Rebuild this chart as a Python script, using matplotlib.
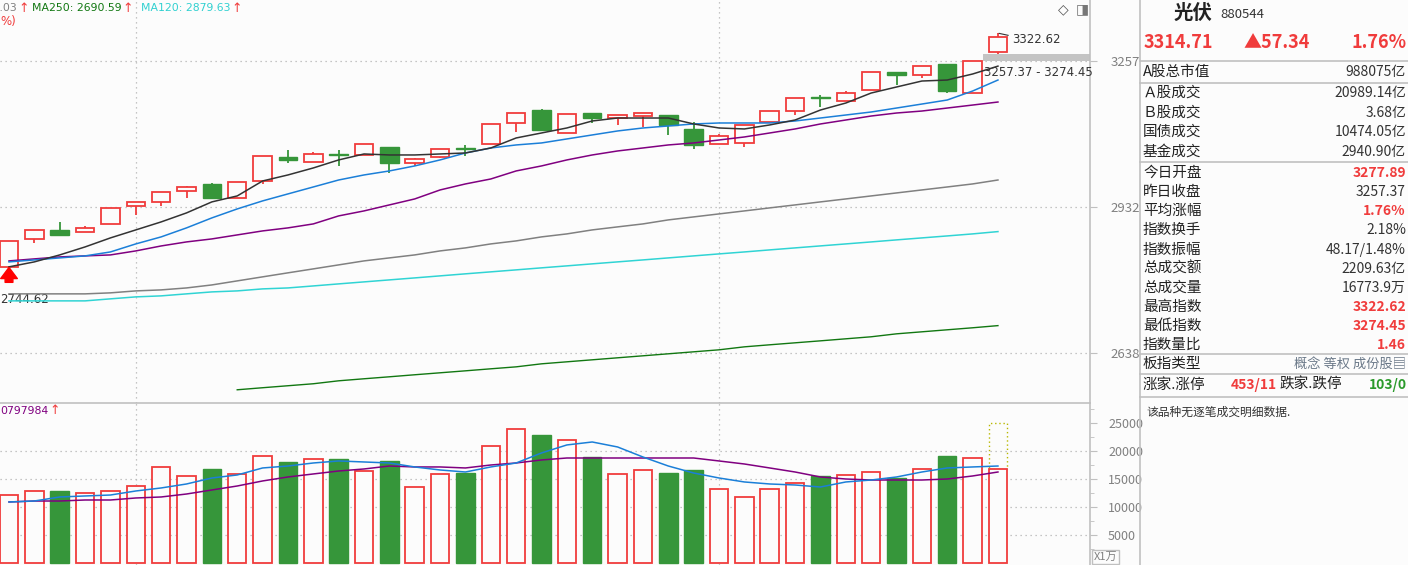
import numpy as np
import matplotlib.pyplot as plt
from matplotlib.lines import Line2D
from matplotlib.ticker import FixedLocator, NullLocator, NullFormatter

plt.rcParams['font.family'] = ['Noto Sans CJK SC', 'DejaVu Sans']

# daily k-line data (40 sessions, last one is today)
opens = [2807.2, 2864.4, 2883.1, 2878.9, 2895.6, 2933.5, 2942.0, 2965.4, 2980.4, 2950.5,
         2986.8, 3039.0, 3028.1, 3045.6, 3043.4, 3061.0, 3025.9, 3039.0, 3058.8, 3067.7,
         3114.5, 3143.8, 3092.1, 3137.0, 3125.7, 3130.2, 3132.5, 3101.1, 3067.7, 3069.9,
         3116.8, 3141.5, 3173.4, 3164.3, 3189.5, 3231.3, 3224.3, 3250.0, 3182.6, 3277.89]
closes = [2860.3, 2883.1, 2872.7, 2887.3, 2929.3, 2942.0, 2963.3, 2973.9, 2950.5, 2984.6,
          3041.2, 3032.5, 3045.6, 3043.4, 3067.7, 3025.9, 3034.7, 3056.6, 3057.5, 3112.3,
          3137.0, 3098.8, 3134.7, 3125.7, 3132.5, 3137.0, 3110.1, 3065.5, 3085.4, 3110.1,
          3141.5, 3171.1, 3171.1, 3182.6, 3231.3, 3224.3, 3245.3, 3187.2, 3257.37, 3314.71]
highs = [2860.3, 2883.1, 2899.8, 2891.4, 2929.3, 2942.0, 2963.3, 2976.1, 2982.5, 2984.6,
         3041.2, 3054.4, 3050.0, 3054.4, 3067.7, 3061.0, 3036.9, 3056.6, 3065.5, 3112.3,
         3137.0, 3146.1, 3134.7, 3137.0, 3132.5, 3137.0, 3132.5, 3116.8, 3089.9, 3110.1,
         3141.5, 3171.1, 3178.0, 3187.2, 3231.3, 3231.3, 3245.3, 3250.0, 3257.37, 3322.62]
lows = [2805.2, 2856.2, 2870.6, 2878.9, 2895.6, 2914.4, 2933.5, 2950.5, 2948.3, 2950.5,
        2980.4, 3025.9, 3028.1, 3019.4, 3043.4, 3004.2, 3019.4, 3036.9, 3041.2, 3067.7,
        3094.4, 3096.6, 3092.1, 3114.5, 3110.1, 3105.6, 3087.7, 3056.6, 3067.7, 3061.0,
        3116.8, 3132.5, 3150.5, 3164.3, 3189.5, 3201.1, 3217.3, 3182.6, 3182.6, 3274.45]

# moving averages
ma5 = [2807.2, 2817.3, 2831.5, 2847.9, 2866.5, 2883.1, 2899.8, 2918.7, 2942.0, 2954.7,
       2986.8, 2999.8, 3015.0, 3032.5, 3045.6, 3043.4, 3043.4, 3045.6, 3047.8, 3058.8,
       3081.0, 3092.1, 3103.3, 3119.0, 3125.7, 3125.7, 3125.7, 3112.3, 3103.3, 3101.1,
       3110.1, 3121.2, 3143.8, 3159.7, 3182.6, 3196.5, 3210.3, 3212.6, 3226.6, 3245.0]
ma10 = [2817.3, 2821.3, 2825.4, 2829.5, 2837.6, 2854.1, 2868.6, 2887.3, 2908.2, 2927.1,
        2944.1, 2959.0, 2973.9, 2988.9, 2999.8, 3008.5, 3019.4, 3032.5, 3047.8, 3058.8,
        3065.5, 3069.9, 3078.8, 3087.7, 3096.6, 3103.3, 3107.8, 3112.3, 3114.5, 3114.5,
        3114.5, 3119.0, 3125.7, 3132.5, 3139.3, 3148.3, 3157.4, 3166.6, 3187.2, 3212.6]
ma20 = [2819.3, 2823.4, 2827.4, 2829.5, 2831.5, 2839.7, 2849.9, 2858.2, 2864.4, 2872.7,
        2881.0, 2887.3, 2895.6, 2912.4, 2922.9, 2935.6, 2948.3, 2967.5, 2980.4, 2991.1,
        3008.5, 3019.4, 3032.5, 3043.4, 3052.2, 3058.8, 3065.5, 3069.9, 3076.5, 3083.2,
        3092.1, 3101.1, 3112.3, 3121.2, 3130.2, 3137.0, 3141.5, 3148.3, 3155.1, 3162.0]
ma60 = [2753.0, 2753.0, 2753.0, 2753.0, 2755.0, 2758.9, 2760.9, 2764.8, 2770.8, 2778.9,
        2787.0, 2795.1, 2803.1, 2811.2, 2819.3, 2825.4, 2831.5, 2839.7, 2845.9, 2854.1,
        2860.3, 2868.6, 2874.8, 2883.1, 2889.4, 2895.6, 2904.0, 2910.3, 2916.6, 2922.9,
        2929.3, 2935.6, 2942.0, 2948.3, 2954.7, 2961.1, 2967.5, 2973.9, 2980.4, 2988.9]
ma120 = [2739.1, 2739.1, 2739.1, 2739.1, 2743.1, 2747.0, 2749.0, 2753.0, 2756.9, 2758.9,
         2762.9, 2764.8, 2768.8, 2772.9, 2776.9, 2780.9, 2784.9, 2789.0, 2793.1, 2797.1,
         2801.1, 2805.2, 2809.2, 2813.3, 2817.3, 2821.3, 2825.4, 2829.5, 2833.6, 2837.6,
         2841.8, 2845.9, 2850.0, 2854.1, 2858.2, 2862.4, 2866.5, 2870.6, 2874.8, 2879.6]
ma250 = [None] * 9 + [2568.8, 2572.6, 2576.3, 2580.0, 2585.5, 2589.3, 2593.0, 2596.8, 2600.5, 2604.2,
                      2608.0, 2611.7, 2617.4, 2621.2, 2625.0, 2628.8, 2632.6, 2636.4, 2640.2, 2644.0,
                      2649.7, 2653.6, 2657.4, 2661.2, 2665.1, 2669.0, 2674.7, 2678.6, 2682.5, 2686.4,
                      2690.6]

# volume (x1万)
volume = [12140, 12860, 12860, 12500, 12860, 13750, 17140, 15540, 16790, 15890,
          19110, 18040, 18570, 18570, 16430, 18210, 13570, 15890, 16070, 20890,
          23930, 22860, 21960, 18930, 15890, 16610, 16070, 16610, 13210, 11790,
          13210, 14290, 15540, 15710, 16250, 15180, 16790, 19110, 18750, 16774]
vol_ma5 = [10900, 11070, 11790, 11970, 12140, 12860, 13400, 14110, 15180, 15720,
           16970, 17320, 17860, 18220, 18040, 17860, 17150, 16610, 16250, 17150,
           17860, 19650, 21080, 21610, 20720, 18930, 17320, 16070, 15180, 14470,
           14110, 13930, 13570, 14470, 14820, 15360, 16250, 16970, 17150, 17320]
vol_ma10 = [10900, 11070, 11070, 11250, 11250, 11610, 11790, 12320, 13040, 13750,
            14650, 15360, 15900, 16430, 16790, 17320, 17150, 17150, 16970, 17500,
            17860, 18400, 18750, 18750, 18750, 18750, 18750, 18750, 18220, 17680,
            16970, 16250, 15360, 15000, 14820, 14820, 14820, 15000, 15540, 16250]
vol_forecast = 25000

price_ticks = [2638, 2932, 3257]
vol_ticks = [5000, 10000, 15000, 20000, 25000]

prev_close = 3257.37
gap_low = 3274.45

info_labels = ['A股总市值', 'Ａ股成交', 'Ｂ股成交', '国债成交', '基金成交', '今日开盘', '昨日收盘',
               '平均涨幅', '指数换手', '指数振幅', '总成交额', '总成交量', '最高指数', '最低指数',
               '指数量比']
info_values = ['988075亿', '20989.14亿', '3.68亿', '10474.05亿', '2940.90亿', '3277.89', '3257.37',
               '1.76%', '2.18%', '48.17/1.48%', '2209.63亿', '16773.9万', '3322.62', '3274.45',
               '1.46']
info_red = [False, False, False, False, False, True, False, True, False, False, False, False,
            True, True, True]

RED = '#f03c3c'
GREEN = '#36963a'
BG = '#fcfcfc'
GRID = '#b4b4b4'
AXIS = '#c0c0c0'

W, H = 1408, 565


def fx(x):
    return x / W


def fy(y):
    return 1 - y / H


fig = plt.figure(figsize=(W / 100, H / 100), dpi=100, facecolor=BG)
ax1 = fig.add_axes([0, fy(403), fx(1090), (403) / H], facecolor=BG)
ax2 = fig.add_axes([0, 0, fx(1090), (565 - 403) / H], facecolor=BG, sharex=ax1)

x = np.arange(len(closes))
o = np.array(opens)
c = np.array(closes)
up = c >= o
bw = 0.73

# ---- price panel ----
ax1.set_yscale('log')
ax1.set_ylim(2544.4, 3403.7)
ax1.set_xlim(-0.355, 42.63)

ax1.vlines(x[up], np.array(lows)[up], np.array(highs)[up], color=RED, lw=1.3, zorder=2)
ax1.vlines(x[~up], np.array(lows)[~up], np.array(highs)[~up], color=GREEN, lw=1.3, zorder=2)
bottoms = np.minimum(o, c)
heights = np.abs(c - o)
ax1.bar(x[up], heights[up], bottom=bottoms[up], width=bw, facecolor=BG, edgecolor=RED, lw=1.3, zorder=3)
ax1.bar(x[~up], heights[~up], bottom=bottoms[~up], width=bw, facecolor=GREEN, edgecolor=GREEN, lw=1.0, zorder=3)

ma250_arr = np.array([np.nan if v is None else v for v in ma250])
ax1.plot(x, ma120, color='#30d4d4', lw=1.1, zorder=4)
ax1.plot(x, ma60, color='#808080', lw=1.1, zorder=4)
ax1.plot(x, ma250_arr, color='#117711', lw=1.0, zorder=4)
ax1.plot(x, ma20, color='#800080', lw=1.1, zorder=4)
ax1.plot(x, ma10, color='#1b7fd8', lw=1.1, zorder=4)
ax1.plot(x, ma5, color='#333333', lw=1.1, zorder=4)

# gap band between previous close and today's low
ax1.fill_between([38.4, 42.63], prev_close, gap_low, color='#c4c4c4', lw=0, zorder=1)
ax1.text(38.45, 3231, '3257.37 - 3274.45', fontsize=8.5, color='#333333', va='center',
         family=['DejaVu Sans'], zorder=6)
ax1.plot([39.05, 39.4], [highs[-1], 3318], color='#333333', lw=0.8, zorder=6)
ax1.text(39.55, 3307, '3322.62', fontsize=8.5, color='#333333', va='center', family=['DejaVu Sans'])
ax1.text(-0.35, 2742, '2744.62', fontsize=8.5, color='#333333', va='center', family=['DejaVu Sans'])
ax1.annotate('', xy=(0, 2806), xytext=(0, 2776),
             arrowprops=dict(arrowstyle='simple,head_width=0.75,head_length=0.5,tail_width=0.35',
                             color='#ff0000', mutation_scale=16, shrinkA=0, shrinkB=0), zorder=6)

ax1.yaxis.tick_right()
ax1.yaxis.set_major_locator(FixedLocator(price_ticks))
ax1.yaxis.set_minor_locator(NullLocator())
ax1.yaxis.set_minor_formatter(NullFormatter())
ax1.set_yticklabels([str(t) for t in price_ticks])
ax1.tick_params(axis='y', direction='out', length=5, color=AXIS, labelsize=9.5,
                labelcolor='#808080', pad=10)
ax1.tick_params(axis='x', bottom=False, labelbottom=False)
for t in price_ticks:
    ax1.axhline(t, color=GRID, lw=0.9, ls=(0, (1, 3)), zorder=0)
for s in ['left', 'top', 'bottom']:
    ax1.spines[s].set_visible(False)
ax1.spines['right'].set_color(AXIS)
ax1.spines['right'].set_linewidth(1.2)

# ---- volume panel ----
v = np.array(volume)
ax2.set_ylim(-357, 28571)
ax2.bar(x[up], v[up], width=bw, facecolor=BG, edgecolor=RED, lw=1.3, zorder=3)
ax2.bar(x[~up], v[~up], width=bw, facecolor=GREEN, edgecolor=GREEN, lw=1.0, zorder=3)
ax2.bar(x[-1], vol_forecast - v[-1], bottom=v[-1], width=bw, facecolor='none',
        edgecolor='#b8b800', lw=1.0, ls=(0, (1, 2)), zorder=2)
ax2.plot(x, vol_ma10, color='#800080', lw=1.1, zorder=4)
ax2.plot(x, vol_ma5, color='#1b7fd8', lw=1.1, zorder=4)

ax2.yaxis.tick_right()
ax2.yaxis.set_major_locator(FixedLocator(vol_ticks))
ax2.yaxis.set_minor_locator(FixedLocator([2500, 7500, 12500, 17500, 22500, 27500]))
ax2.set_yticklabels([str(t) for t in vol_ticks])
ax2.tick_params(axis='y', which='major', direction='out', length=5, color=AXIS, labelsize=9,
                labelcolor='#808080', pad=8)
ax2.tick_params(axis='y', which='minor', direction='out', length=3, color=AXIS)
ax2.tick_params(axis='x', bottom=False, labelbottom=False)
for t in vol_ticks[:-1]:
    ax2.axhline(t, color=GRID, lw=0.9, ls=(0, (1, 3)), zorder=0)
for s in ['left', 'bottom']:
    ax2.spines[s].set_visible(False)
for s in ['right', 'top']:
    ax2.spines[s].set_color(AXIS)
    ax2.spines[s].set_linewidth(1.2)

for ax in (ax1, ax2):
    for xv in (5, 28):
        ax.axvline(xv, color=GRID, lw=0.9, ls=(0, (1, 3)), zorder=0)

# ---- legends at top-left of the panels ----
renderer = fig.canvas.get_renderer()


def legend_item(x0, y0, txt, color, ha='left'):
    t = fig.text(fx(x0), fy(y0), txt, color=color, fontsize=7.8, ha=ha, va='center',
                 family=['DejaVu Sans'])
    bb = t.get_window_extent(renderer)
    a = fig.text(bb.x1 / W + 1 / W, fy(y0), '↑', color=RED, fontsize=9, va='center',
                 family=['DejaVu Sans'])
    return a.get_window_extent(renderer).x1


legend_item(17, 8, 'MA60: 2988.03', '#808080', ha='right')
end = legend_item(32, 8, 'MA250: 2690.59', '#117711')
legend_item(end + 8, 8, 'MA120: 2879.63', '#30d0d0')
fig.text(fx(0), fy(21), '%)', color=RED, fontsize=8.5, va='center', family=['DejaVu Sans'])
legend_item(0, 411, '0797984', '#800080')

fig.text(fx(1058), fy(9), '◇', color='#555555', fontsize=10, va='center', family=['DejaVu Sans'])
fig.text(fx(1076), fy(9), '◨', color='#777777', fontsize=10, va='center', family=['DejaVu Sans'])
fig.text(fx(1094), fy(557), 'X1万', color='#808080', fontsize=8, va='center',
         bbox=dict(boxstyle='square,pad=0.15', fc=BG, ec=AXIS, lw=1))

# ---- right info panel ----
fig.add_artist(Line2D([fx(1140), fx(1140)], [0, 1], color=AXIS, lw=1.2))
for yy in (61, 83, 162, 354, 374, 397):
    fig.add_artist(Line2D([fx(1140), 1], [fy(yy), fy(yy)], color=AXIS, lw=1.2))

fig.text(fx(1174), fy(13), '光伏', fontsize=14, fontweight='bold', color='#222222', va='center')
fig.text(fx(1220), fy(15), '880544', fontsize=9.5, color='#333333', va='center')
fig.text(fx(1144), fy(42), '3314.71', fontsize=13, fontweight='bold', color=RED, va='center')
fig.text(fx(1243), fy(42), '▲57.34', fontsize=13, fontweight='bold', color=RED, va='center')
fig.text(fx(1407), fy(42), '1.76%', fontsize=13, fontweight='bold', color=RED, va='center', ha='right')

row_y = [72, 93, 113, 132, 152, 173, 192, 211, 230, 250, 269, 288, 307, 326, 345]
for lab, val, red, yy in zip(info_labels, info_values, info_red, row_y):
    fig.text(fx(1143), fy(yy), lab, fontsize=10.5, color='#222222', va='center')
    fig.text(fx(1406), fy(yy), val, fontsize=10, color=RED if red else '#333333',
             fontweight='bold' if red else 'normal', va='center', ha='right')
fig.text(fx(1143), fy(364), '板指类型', fontsize=10.5, color='#222222', va='center')
fig.text(fx(1406), fy(364), '概念 等权 成份股▤', fontsize=9.5, color='#6a7888', va='center', ha='right',
         family=['Noto Sans CJK SC', 'DejaVu Sans'])
fig.text(fx(1143), fy(385), '涨家.涨停', fontsize=10.5, color='#222222', va='center')
fig.text(fx(1231), fy(385), '453/11', fontsize=10, fontweight='bold', color=RED, va='center')
fig.text(fx(1280), fy(385), '跌家.跌停', fontsize=10.5, color='#222222', va='center')
fig.text(fx(1407), fy(385), '103/0', fontsize=10, fontweight='bold', color='#2a9a2a', va='center',
         ha='right')
fig.text(fx(1146), fy(412), '该品种无逐笔成交明细数据.', fontsize=8.5, color='#333333', va='center')

fig.savefig('out.png', dpi=100, facecolor=BG)
